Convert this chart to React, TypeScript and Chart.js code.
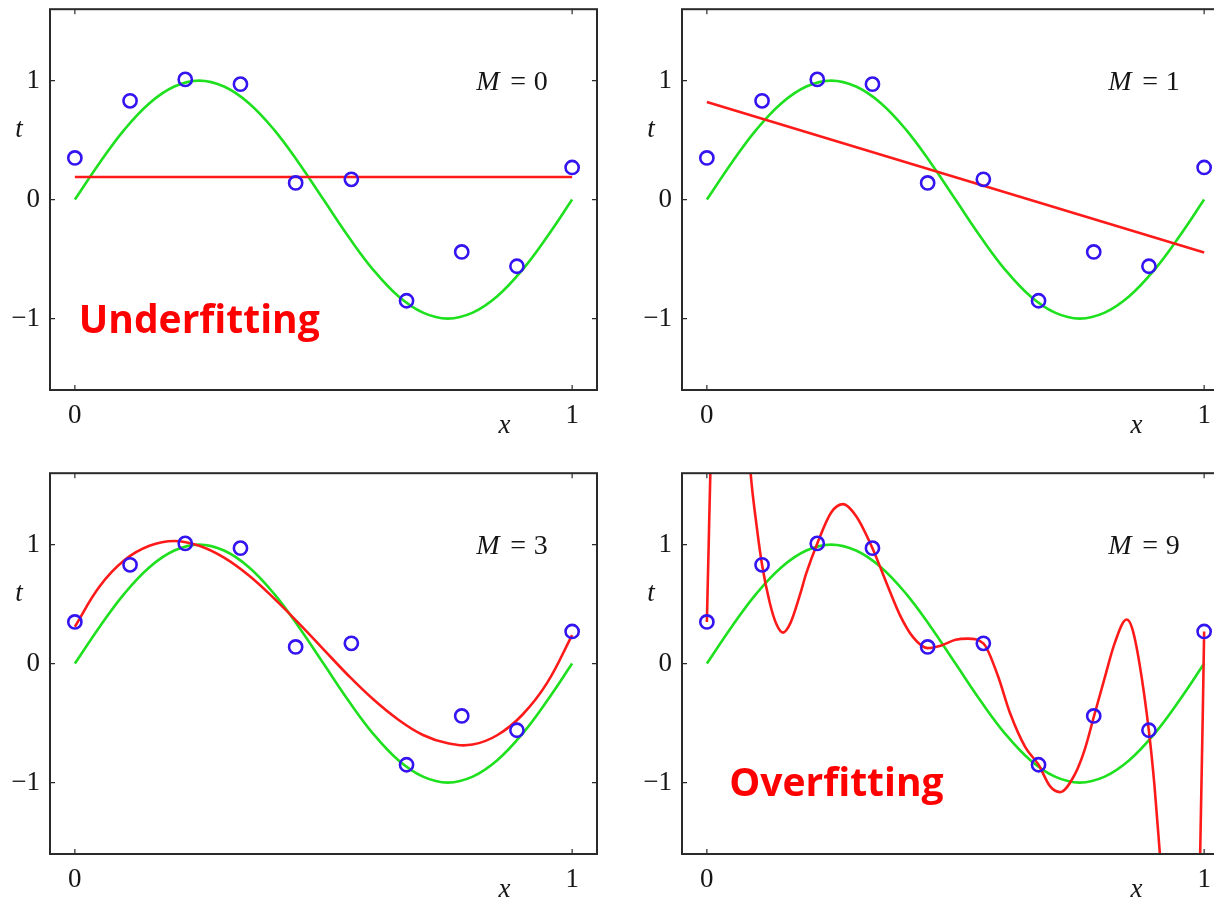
import { useEffect, useRef } from 'react';
import { Chart, registerables } from 'chart.js';

Chart.register(...registerables);

// Observed training points (x_n, t_n)
const sampleX = [0, 0.111, 0.222, 0.333, 0.444, 0.556, 0.667, 0.778, 0.889, 1];
const sampleT = [0.35, 0.83, 1.01, 0.97, 0.14, 0.17, -0.85, -0.44, -0.56, 0.27];

// Underlying curve, sampled every 0.05
const curveX = [0, 0.05, 0.1, 0.15, 0.2, 0.25, 0.3, 0.35, 0.4, 0.45, 0.5, 0.55, 0.6, 0.65, 0.7, 0.75, 0.8, 0.85, 0.9, 0.95, 1];
const trueCurve = [0, 0.31, 0.59, 0.81, 0.95, 1, 0.95, 0.81, 0.59, 0.31, 0, -0.31, -0.59, -0.81, -0.95, -1, -0.95, -0.81, -0.59, -0.31, 0];

// Fitted polynomials
const fitM0X = [0, 1];
const fitM0 = [0.19, 0.19];
const fitM1X = [0, 1];
const fitM1 = [0.82, -0.445];
const fitM3 = [0.31, 0.65, 0.87, 0.99, 1.03, 0.99, 0.89, 0.74, 0.55, 0.34, 0.12, -0.1, -0.3, -0.47, -0.6, -0.67, -0.68, -0.6, -0.43, -0.16, 0.24];
const fitM9X = [0, 0.0035, 0.007, 0.012, 0.045, 0.08, 0.088, 0.1, 0.111, 0.126, 0.14, 0.153, 0.168, 0.187, 0.2, 0.222, 0.25, 0.274, 0.3, 0.333, 0.361, 0.388, 0.415, 0.444, 0.47, 0.5, 0.525, 0.556, 0.585, 0.61, 0.64, 0.667, 0.69, 0.71, 0.74, 0.76, 0.778, 0.8, 0.82, 0.844, 0.855, 0.87, 0.889, 0.9, 0.911, 0.92, 0.95, 0.975, 0.992, 1];
const fitM9 = [0.35, 0.97, 1.6, 2.2, 3.0, 2.1, 1.6, 1.16, 0.83, 0.52, 0.33, 0.26, 0.34, 0.575, 0.76, 1.01, 1.27, 1.34, 1.24, 0.97, 0.68, 0.41, 0.22, 0.13, 0.15, 0.2, 0.21, 0.17, -0.1, -0.42, -0.7, -0.85, -1.03, -1.08, -0.93, -0.72, -0.45, -0.12, 0.17, 0.37, 0.3, 0.0, -0.57, -1.02, -1.6, -2.1, -3.0, -2.5, -1.6, 0.27];

const xTicks = [0, 1];
const yTicks = [-1, 0, 1];

const SERIF = '"Liberation Serif", "DejaVu Serif", serif';
const INK = '#151515';

type Panel = {
  order: number;
  fitX: number[];
  fitY: number[];
  left: number;
  top: number;
  note?: string;
  noteX?: number;
  noteY?: number;
};

const panels: Panel[] = [
  { order: 0, fitX: fitM0X, fitY: fitM0, left: 0, top: 0, note: 'Underfitting', noteX: 0.014, noteY: -1.12 },
  { order: 1, fitX: fitM1X, fitY: fitM1, left: 632, top: 0 },
  { order: 3, fitX: curveX, fitY: fitM3, left: 0, top: 464 },
  { order: 9, fitX: fitM9X, fitY: fitM9, left: 632, top: 464, note: 'Overfitting', noteX: 0.049, noteY: -1.11 },
];

const pts = (xs: number[], ys: number[]) => xs.map((x, i) => ({ x, y: ys[i] }));

function makeDecor(p: Panel) {
  return {
    id: 'decor' + p.order,
    afterDraw(chart: any) {
      const { ctx, chartArea } = chart;
      const xs = chart.scales.x;
      const ys = chart.scales.y;
      const { left, top, right, bottom } = chartArea;
      ctx.save();
      // frame
      ctx.strokeStyle = '#2a2a2a';
      ctx.lineWidth = 2;
      ctx.strokeRect(left, top, right - left, bottom - top);
      // inward tick marks on all four sides
      ctx.lineWidth = 1.2;
      ctx.beginPath();
      for (const v of xTicks) {
        const px = xs.getPixelForValue(v);
        ctx.moveTo(px, bottom);
        ctx.lineTo(px, bottom - 5);
        ctx.moveTo(px, top);
        ctx.lineTo(px, top + 5);
      }
      for (const v of yTicks) {
        const py = ys.getPixelForValue(v);
        ctx.moveTo(left, py);
        ctx.lineTo(left + 5, py);
        ctx.moveTo(right, py);
        ctx.lineTo(right - 5, py);
      }
      ctx.stroke();

      // axis titles
      ctx.fillStyle = INK;
      ctx.font = 'italic 27px ' + SERIF;
      ctx.textAlign = 'center';
      ctx.textBaseline = 'alphabetic';
      ctx.fillText('t', left - 31, ys.getPixelForValue(0.53));
      ctx.fillText('x', xs.getPixelForValue(0.864), bottom + 43);

      // model order annotation
      const ax = xs.getPixelForValue(0.8);
      const by = ys.getPixelForValue(0.92);
      ctx.font = 'italic 28px ' + SERIF;
      ctx.textAlign = 'right';
      ctx.fillText('M', ax + 27, by);
      ctx.font = '28px ' + SERIF;
      ctx.textAlign = 'center';
      ctx.fillText('=', ax + 45.5, by);
      ctx.fillText(String(p.order), ax + 68, by);

      if (p.note) {
        ctx.fillStyle = '#ff0000';
        ctx.font = 'bold 39px "Open Sans", "Noto Sans", sans-serif';
        ctx.textAlign = 'left';
        const m = ctx.measureText(p.note);
        ctx.fillText(p.note, xs.getPixelForValue(p.noteX!) + m.actualBoundingBoxLeft, ys.getPixelForValue(p.noteY!));
      }
      ctx.restore();
    },
  };
}

function PanelChart({ p }: { p: Panel }) {
  const ref = useRef<HTMLCanvasElement | null>(null);
  useEffect(() => {
    if (!ref.current) return;
    const smooth = p.fitX.length > 2;
    const wild = p.order === 9;
    const chart = new Chart(ref.current, {
      type: 'scatter',
      data: {
        datasets: [
          {
            label: 'data',
            data: pts(sampleX, sampleT),
            showLine: false,
            pointRadius: 6.6,
            pointBorderWidth: 2.6,
            pointBorderColor: '#3414f0',
            pointBackgroundColor: 'rgba(0,0,0,0)',
          },
          {
            label: 'fit',
            data: pts(p.fitX, p.fitY),
            showLine: true,
            pointRadius: 0,
            borderColor: '#ff1a1a',
            borderWidth: 2.6,
            cubicInterpolationMode: wild ? 'monotone' : 'default',
            tension: smooth && !wild ? 0.4 : 0,
          },
          {
            label: 'true',
            data: pts(curveX, trueCurve),
            showLine: true,
            pointRadius: 0,
            borderColor: '#1ee01e',
            borderWidth: 2.6,
            tension: 0.4,
          },
        ],
      },
      options: {
        responsive: false,
        animation: false,
        devicePixelRatio: 1,
        layout: { padding: { left: 0, top: 6, right: 10, bottom: 0 } },
        plugins: { legend: { display: false }, tooltip: { enabled: false } },
        events: [],
        scales: {
          x: {
            type: 'linear',
            min: -0.05,
            max: 1.05,
            grid: { display: false, drawTicks: false, tickLength: 0 },
            border: { display: false },
            afterBuildTicks: (s: any) => {
              s.ticks = xTicks.map((value) => ({ value }));
            },
            afterFit: (s: any) => {
              s.height = 59;
              s.paddingLeft = 0;
              s.paddingRight = 0;
            },
            ticks: {
              color: INK,
              padding: 10,
              maxRotation: 0,
              autoSkip: false,
              font: { family: SERIF, size: 27 },
              callback: (v: any) => String(v),
            },
          },
          y: {
            type: 'linear',
            min: -1.6,
            max: 1.6,
            grid: { display: false, drawTicks: false, tickLength: 0 },
            border: { display: false },
            afterBuildTicks: (s: any) => {
              s.ticks = yTicks.map((value) => ({ value }));
            },
            afterFit: (s: any) => {
              s.width = 50;
              s.paddingTop = 0;
              s.paddingBottom = 0;
            },
            ticks: {
              color: INK,
              padding: 10,
              autoSkip: false,
              font: { family: SERIF, size: 27 },
              callback: (v: any) => (Number(v) < 0 ? '\u2212' + Math.abs(Number(v)) : String(v)),
            },
          },
        },
      },
      plugins: [makeDecor(p)],
    } as any);
    return () => chart.destroy();
  }, [p]);
  return (
    <canvas
      ref={ref}
      width={607}
      height={449}
      style={{ position: 'absolute', left: p.left, top: p.top, width: 607, height: 449 }}
    />
  );
}

export default function App() {
  return (
    <div
      style={{
        position: 'absolute',
        left: 0,
        top: 0,
        width: 1214,
        height: 899,
        overflow: 'hidden',
        background: '#ffffff',
      }}
    >
      {panels.map((p) => (
        <PanelChart key={p.order} p={p} />
      ))}
    </div>
  );
}
